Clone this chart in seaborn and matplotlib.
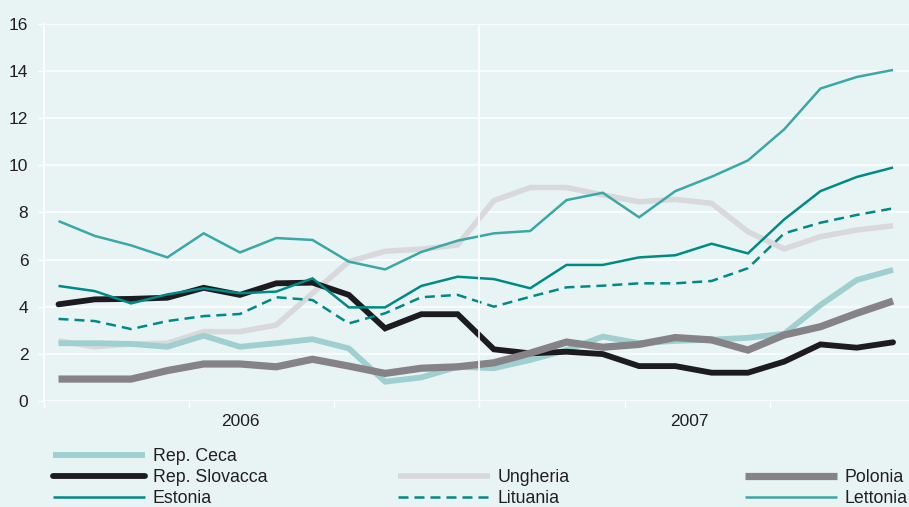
import numpy as np
import pandas as pd
import matplotlib.pyplot as plt
import seaborn as sns

# monthly data, 24 points (2006-2007)
months = list(range(24))

rep_ceca = [2.45, 2.45, 2.42, 2.30, 2.77, 2.30, 2.45, 2.62, 2.23, 0.82, 1.00, 1.45,
            1.39, 1.74, 2.16, 2.73, 2.45, 2.55, 2.60, 2.68, 2.85, 4.07, 5.13, 5.56]
rep_slovacca = [4.10, 4.31, 4.33, 4.38, 4.80, 4.50, 4.99, 5.02, 4.50, 3.08, 3.68, 3.68,
                2.19, 2.02, 2.09, 1.99, 1.48, 1.48, 1.20, 1.20, 1.67, 2.40, 2.26, 2.49]
ungheria = [2.55, 2.30, 2.42, 2.45, 2.94, 2.94, 3.22, 4.57, 5.91, 6.35, 6.44, 6.62,
            8.50, 9.05, 9.05, 8.74, 8.45, 8.55, 8.38, 7.18, 6.45, 6.97, 7.25, 7.43]
polonia = [0.93, 0.93, 0.93, 1.29, 1.57, 1.57, 1.45, 1.77, 1.48, 1.17, 1.39, 1.45,
           1.62, 2.03, 2.50, 2.28, 2.40, 2.69, 2.59, 2.16, 2.80, 3.15, 3.72, 4.24]
estonia = [4.88, 4.66, 4.14, 4.52, 4.78, 4.57, 4.64, 5.20, 3.97, 3.97, 4.88, 5.27,
           5.17, 4.78, 5.77, 5.77, 6.09, 6.18, 6.67, 6.26, 7.70, 8.90, 9.50, 9.90]
lituania = [3.48, 3.39, 3.05, 3.39, 3.60, 3.69, 4.40, 4.28, 3.29, 3.72, 4.40, 4.50,
            4.00, 4.42, 4.82, 4.89, 4.99, 4.99, 5.09, 5.63, 7.11, 7.56, 7.89, 8.17]
lettonia = [7.63, 7.00, 6.60, 6.09, 7.11, 6.30, 6.91, 6.83, 5.91, 5.58, 6.32, 6.80,
            7.11, 7.21, 8.52, 8.83, 7.79, 8.90, 9.51, 10.20, 11.52, 13.25, 13.74, 14.04]

year_labels = ["2006", "2007"]
year_pos = [5.0, 17.4]
quarter_ticks = [-0.4, 3.6, 7.6, 11.6, 15.6, 19.6]

bg = "#e8f4f4"
txt = "#231f20"

sns.set_style("whitegrid", {"axes.facecolor": bg, "figure.facecolor": bg,
                            "grid.color": "white", "axes.edgecolor": "white"})
plt.rcParams["font.family"] = ["Liberation Sans", "DejaVu Sans"]

fig = plt.figure(figsize=(9.09, 5.07), dpi=100, facecolor=bg)
ax = fig.add_axes([44/909, 1-401/507, 865/909, (401-23.7)/507])

# name, values, color, linewidth, dashes, capstyle
series = [
    ("Ungheria", ungheria, "#d9d9db", 4.0, None, "butt"),
    ("Rep. Ceca", rep_ceca, "#9fd0cf", 4.2, None, "butt"),
    ("Rep. Slovacca", rep_slovacca, "#1c1b20", 4.2, None, "round"),
    ("Polonia", polonia, "#858388", 5.2, None, "butt"),
    ("Estonia", estonia, "#008a85", 1.8, None, "butt"),
    ("Lituania", lituania, "#008a85", 1.8, (4, 2.4), "butt"),
    ("Lettonia", lettonia, "#3aa8a4", 1.8, None, "butt"),
]

handles = {}
for name, vals, col, lw, dash, cap in series:
    sns.lineplot(x=months, y=vals, ax=ax, color=col, linewidth=lw, legend=False)
    ln = ax.lines[-1]
    ln.set_solid_capstyle(cap)
    ln.set_solid_joinstyle("miter")
    if dash is not None:
        ln.set_dashes(dash)
    handles[name] = ln

ax.set_xlim(-0.4, 23.44)
ax.set_ylim(0, 16)
ax.set_yticks(np.arange(0, 17, 2))
ax.set_xticks(quarter_ticks)
ax.set_xticklabels([])
ax.set_xticks(year_pos, minor=True)
ax.set_xticklabels(year_labels, minor=True)
ax.grid(axis="x", visible=False)
ax.grid(axis="y", color="white", linewidth=1.1)
ax.axvline(11.6, color="white", linewidth=1.2)
ax.set_xlabel("")
ax.set_ylabel("")

for s in ["top", "right", "bottom"]:
    ax.spines[s].set_visible(False)
ax.spines["left"].set_color("white")
ax.spines["left"].set_linewidth(1.2)

ax.tick_params(axis="y", length=4.3, width=1.0, color="white", labelcolor=txt,
               labelsize=12.5, pad=7, left=True)
ax.tick_params(axis="x", which="major", length=5, width=1.0, color="white",
               bottom=True)
ax.tick_params(axis="x", which="minor", length=0, labelcolor=txt,
               labelsize=12.5, pad=9)

leg_kw = dict(loc="upper left", frameon=False, borderpad=0, borderaxespad=0,
              handlelength=5.2, handletextpad=0.4, labelspacing=0.22,
              fontsize=12.8, labelcolor=txt)

col1 = ["Rep. Ceca", "Rep. Slovacca", "Estonia"]
col2 = ["Ungheria", "Lituania"]
col3 = ["Polonia", "Lettonia"]
l1 = fig.legend([handles[n] for n in col1], col1,
                bbox_to_anchor=(53/909, 1-448/507), **leg_kw)
l2 = fig.legend([handles[n] for n in col2], col2,
                bbox_to_anchor=(398/909, 1-469/507), **leg_kw)
l3 = fig.legend([handles[n] for n in col3], col3,
                bbox_to_anchor=(745/909, 1-469/507), **leg_kw)

fig.savefig("out.png", dpi=100, facecolor=bg)
